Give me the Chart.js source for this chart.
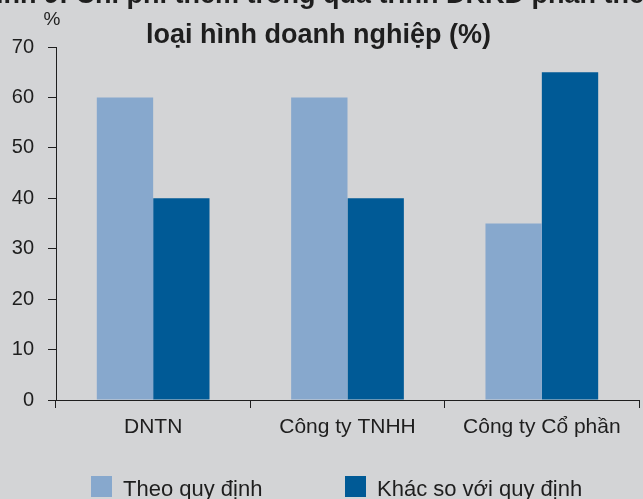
<!DOCTYPE html>
<html>
<head>
<meta charset="utf-8">
<script src="https://cdn.jsdelivr.net/npm/chart.js@4/dist/chart.umd.min.js"></script>
<style>
  html, body { margin: 0; padding: 0; background: #d3d4d6; overflow: hidden; }
  #wrap { position: relative; width: 643px; height: 499px; }
</style>
</head>
<body>
<div id="wrap"><canvas id="chart"></canvas></div>
<script>
// data
const categories = ['DNTN', 'Công ty TNHH', 'Công ty Cổ phần'];
const theoQuyDinh = [60, 60, 35];
const khacQuyDinh = [40, 40, 65];
const seriesNames = ['Theo quy định', 'Khác so với quy định'];
const titleLines = ['Hình 9: Chi phí thêm trong quá trình ĐKKD phân theo', 'loại hình doanh nghiệp (%)'];
const unitLabel = '%';

const ink = '#1e1e1e';
Chart.defaults.font.family = '"Liberation Sans", Arial, sans-serif';
Chart.defaults.color = ink;

// title, unit and legend drawn over the canvas
const extras = {
    id: 'extras',
    afterDraw(chart) {
        const ctx = chart.ctx;
        ctx.save();
        ctx.fillStyle = ink;
        ctx.textAlign = 'center';
        ctx.textBaseline = 'alphabetic';
        ctx.font = 'bold 27px "Liberation Sans", Arial, sans-serif';
        ctx.fillText(titleLines[0], 318.5, 3);
        ctx.fillText(titleLines[1], 318.5, 43);

        ctx.font = '19px "Liberation Sans", Arial, sans-serif';
        ctx.textBaseline = 'middle';
        ctx.fillText(unitLabel, 52, 20);

        // legend
        ctx.font = '22px "Liberation Sans", Arial, sans-serif';
        ctx.textAlign = 'left';
        ctx.textBaseline = 'alphabetic';
        [91, 345].forEach((x, i) => {
            ctx.fillStyle = chart.data.datasets[i].backgroundColor;
            ctx.fillRect(x, 476, 21, 21);
            ctx.fillStyle = ink;
            ctx.fillText(chart.data.datasets[i].label, x + 32, 496);
        });
        ctx.restore();
    }
};

new Chart(document.getElementById('chart'), {
    type: 'bar',
    data: {
        labels: categories,
        datasets: [
            { label: seriesNames[0], backgroundColor: '#87a8cd', data: theoQuyDinh },
            { label: seriesNames[1], backgroundColor: '#005a96', data: khacQuyDinh }
        ]
    },
    options: {
        responsive: true,
        maintainAspectRatio: false,
        animation: false,
        categoryPercentage: 0.58,
        barPercentage: 1,
        layout: { padding: { top: 47, right: 4, bottom: 59, left: 0 } },
        plugins: { legend: { display: false }, tooltip: { enabled: false } },
        scales: {
            x: {
                afterFit: s => { s.height = 40; },
                border: { color: ink, width: 1 },
                grid: { drawOnChartArea: false, tickLength: 8, color: ink, offset: true },
                ticks: { padding: 7, font: { size: 21 }, color: ink, maxRotation: 0, autoSkip: false }
            },
            y: {
                min: 0, max: 70,
                afterFit: s => { s.width = 56; },
                border: { color: ink, width: 1 },
                grid: { drawOnChartArea: false, tickLength: 8, color: ink },
                ticks: { stepSize: 10, padding: 14, font: { size: 20 }, color: ink }
            }
        }
    },
    plugins: [extras]
});
</script>
</body>
</html>
